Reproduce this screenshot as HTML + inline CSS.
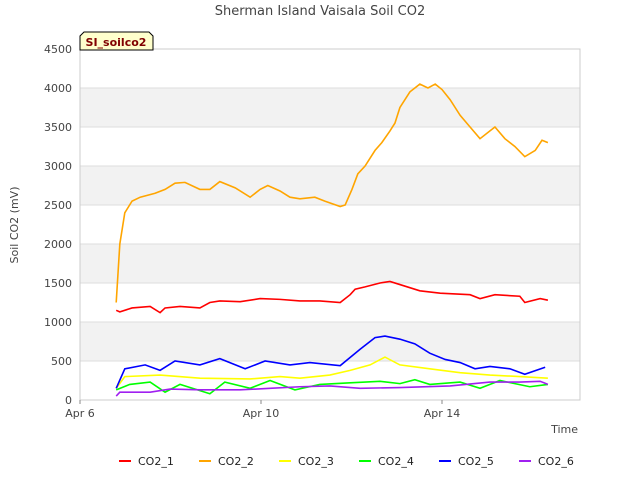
<!DOCTYPE html>
<html><head><meta charset="utf-8"><style>
body{margin:0;background:#fff;font-family:"Liberation Sans","DejaVu Sans",sans-serif}
svg text{font-family:"DejaVu Sans","Liberation Sans",sans-serif}
</style></head><body>
<svg id="c" width="640" height="480">
<text x="320" y="15" text-anchor="middle" font-size="13" fill="#444">Sherman Island Vaisala Soil CO2</text>
<text transform="translate(18,225) rotate(-90)" text-anchor="middle" font-size="11" fill="#444">Soil CO2 (mV)</text>
<text x="578" y="433" text-anchor="end" font-size="11" fill="#444">Time</text>
<g id="grid"></g><g id="series"></g><g id="legend"></g>
<g>
<path d="M80,50 L80,36 L84,32 L149,32 L153,36 L153,50 Z" fill="#ffffcc" stroke="#000"/>
<text x="116" y="46" text-anchor="middle" font-size="11" font-weight="bold" fill="#800000">SI_soilco2</text>
</g>
</svg>
<script>
const yTicks=[0,500,1000,1500,2000,2500,3000,3500,4000,4500];
const xTickDays=[0,4,8];
const xTickLabels=["Apr 6","Apr 10","Apr 14"];
const names=["CO2_1","CO2_2","CO2_3","CO2_4","CO2_5","CO2_6"];
const colors=["#ff0000","#ffa500","#ffff00","#00ff00","#0000ff","#a020f0"];
const t1=[0.80,0.88,1.15,1.55,1.77,1.88,2.21,2.65,2.87,3.09,3.54,3.98,4.42,4.86,5.30,5.75,5.97,6.08,6.30,6.63,6.85,7.07,7.51,7.96,8.62,8.84,9.17,9.72,9.83,10.17,10.34];
const v1=[1150,1130,1180,1200,1120,1180,1200,1180,1250,1270,1260,1300,1290,1270,1270,1250,1350,1420,1450,1500,1520,1480,1400,1370,1350,1300,1350,1330,1250,1300,1280];
const t2=[0.80,0.88,0.99,1.15,1.33,1.66,1.88,2.10,2.32,2.65,2.87,3.09,3.43,3.76,3.98,4.15,4.42,4.64,4.86,5.19,5.41,5.75,5.86,6.01,6.14,6.30,6.52,6.67,6.85,6.96,7.07,7.29,7.51,7.69,7.85,8.00,8.18,8.40,8.62,8.84,9.06,9.17,9.39,9.61,9.83,10.06,10.21,10.34];
const v2=[1250,2000,2400,2550,2600,2650,2700,2780,2790,2700,2700,2800,2720,2600,2700,2750,2680,2600,2580,2600,2550,2480,2500,2700,2900,3000,3200,3300,3450,3550,3750,3950,4050,4000,4050,3980,3850,3650,3500,3350,3450,3500,3350,3250,3120,3200,3330,3300];
const t3=[0.80,0.99,1.77,2.65,3.76,4.42,4.86,5.52,5.97,6.41,6.74,7.07,7.73,8.40,9.06,9.72,10.34];
const v3=[150,300,320,280,270,300,280,320,380,450,550,450,400,350,320,300,280];
const t4=[0.80,1.10,1.55,1.88,2.21,2.87,3.20,3.76,4.20,4.75,5.30,5.97,6.63,7.07,7.40,7.73,8.40,8.84,9.28,9.94,10.34];
const v4=[130,200,230,100,200,80,230,150,250,130,200,220,240,210,260,200,230,150,250,170,200];
const t5=[0.80,0.99,1.44,1.77,2.10,2.65,3.09,3.65,4.09,4.64,5.08,5.75,6.19,6.52,6.74,7.07,7.40,7.73,8.07,8.40,8.73,9.06,9.50,9.83,10.28];
const v5=[150,400,450,380,500,450,530,400,500,450,480,440,650,800,820,780,720,600,520,480,400,430,400,330,420];
const t6=[0.80,0.88,1.55,1.99,2.65,3.54,4.20,4.86,5.52,6.19,7.07,8.18,9.06,9.72,10.17,10.34];
const v6=[50,100,100,140,130,130,150,170,180,150,160,180,230,230,240,200];
const T=[t1,t2,t3,t4,t5,t6],V=[v1,v2,v3,v4,v5,v6];
const X0=80,X1=580,Y0=400,Y1=49;
const xs=d=>X0+d*45.25;
const ys=v=>Y0-(v/4500)*(Y0-Y1);
const NS="http://www.w3.org/2000/svg";
function mk(tag,a,parent){const e=document.createElementNS(NS,tag);for(const k in a)e.setAttribute(k,a[k]);parent.appendChild(e);return e;}
const g=document.getElementById('grid');
for(let i=0;i<yTicks.length-1;i++){
 if(i%2==1){const r=mk('rect',{x:X0,y:ys(yTicks[i+1]),width:X1-X0,height:ys(yTicks[i])-ys(yTicks[i+1]),fill:'#f2f2f2'},g);
 
 }
}
for(const v of yTicks){
 const l=mk('line',{x1:X0,x2:X1,y1:ys(v),y2:ys(v),stroke:'#ddd'},g);
 
 
 const t=mk('text',{x:X0-8,y:ys(v)+4,'text-anchor':'end','font-size':11,fill:'#444'},g);t.textContent=v;
 
 
}
mk('rect',{x:X0,y:Y1,width:X1-X0,height:Y0-Y1,fill:'none',stroke:'#ccc'},g);
xTickDays.forEach((d,i)=>{
 mk('line',{x1:xs(d),x2:xs(d),y1:Y0,y2:Y0+4,stroke:'#888'},g);
 const t=mk('text',{x:xs(d),y:Y0+17,'text-anchor':'middle','font-size':11,fill:'#444'},g);t.textContent=xTickLabels[i];
 
 
});
const s=document.getElementById('series');
T.forEach((tt,k)=>{
 const p=mk('polyline',{points:tt.map((d,i)=>xs(d)+','+ys(V[k][i])).join(' '),fill:'none',stroke:colors[k],'stroke-width':1.6},s);
 
 
});
const lg=document.getElementById('legend');
const lx=[119,199,279,359,439,519];
names.forEach((n,k)=>{
 const e=mk('g',{},lg);
 
 
 mk('line',{x1:lx[k],x2:lx[k]+12,y1:461,y2:461,stroke:colors[k],'stroke-width':2},e);
 const t=mk('text',{x:lx[k]+19,y:465,'font-size':11,fill:'#222'},e);t.textContent=n;
});
</script>
</body></html>
